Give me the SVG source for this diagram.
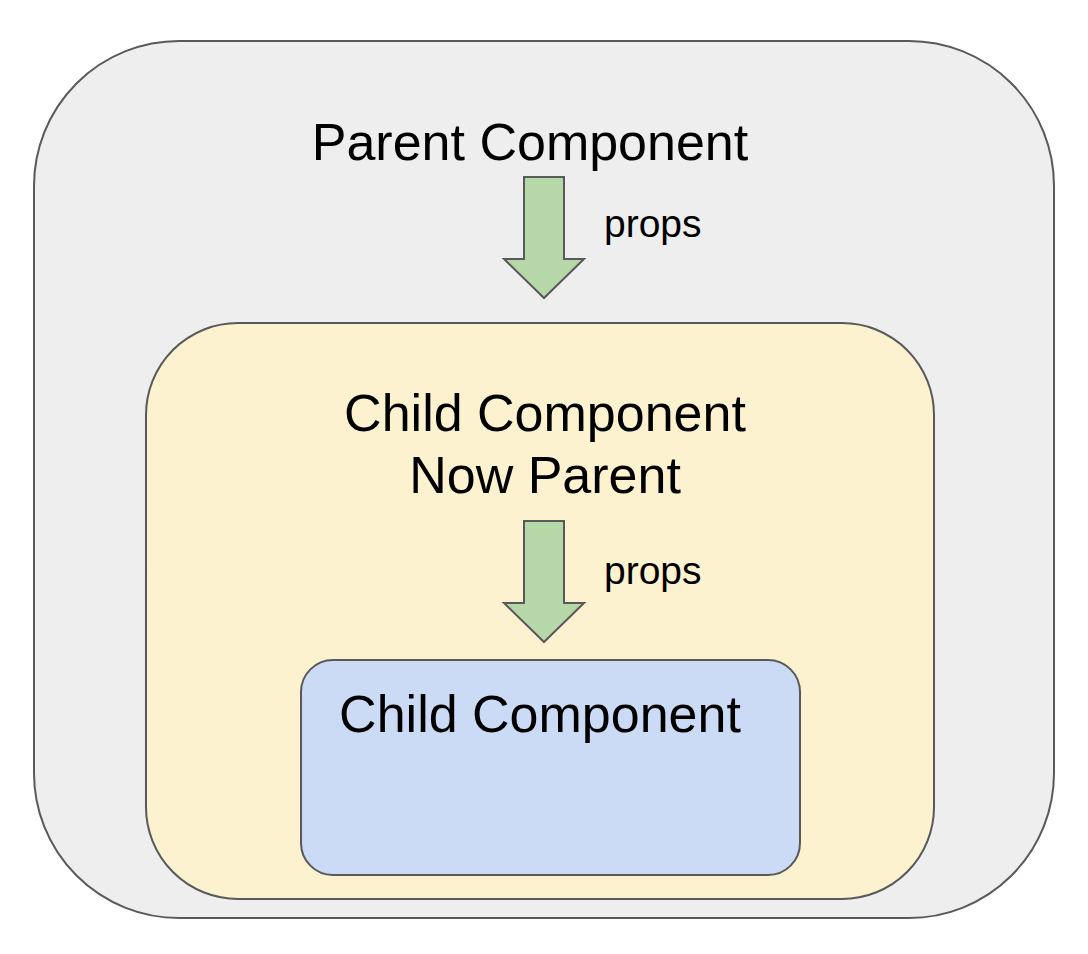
<svg xmlns="http://www.w3.org/2000/svg" width="1088" height="954" viewBox="0 0 1088 954">
  <style>
    .box { stroke: #595959; stroke-width: 2; }
    .arrow { fill: #b6d7a8; stroke: #595959; stroke-width: 2; stroke-linejoin: miter; }
    .title { font-family: "Liberation Sans", Arial, sans-serif; font-size: 52px; fill: #000; text-anchor: middle; }
    .label { font-family: "Liberation Sans", Arial, sans-serif; font-size: 39px; fill: #000; }
  </style>
  <rect width="1088" height="954" fill="#ffffff"/>

  <g id="parent">
    <rect class="box" x="34" y="41" width="1020" height="877" rx="145" ry="145" fill="#eeeeee"/>
    <text class="title" x="530" y="160">Parent Component</text>
  </g>

  <g id="child-now-parent">
    <rect class="box" x="146" y="323" width="788" height="576" rx="92" ry="92" fill="#fdf2d0"/>
    <text class="title" x="545" y="431">Child Component</text>
    <text class="title" x="545" y="493">Now Parent</text>
  </g>

  <g id="child">
    <rect class="box" x="301" y="660" width="499" height="215" rx="32" ry="32" fill="#cbdaf5"/>
    <text class="title" x="540" y="732">Child Component</text>
  </g>

  <g id="connectors">
    <polygon class="arrow" points="524,177 564,177 564,259 584,259 544,298 504,259 524,259"/>
    <text class="label" x="604" y="237">props</text>
    <polygon class="arrow" points="524,521 564,521 564,603 584,603 544,642 504,603 524,603"/>
    <text class="label" x="604" y="584">props</text>
  </g>
</svg>
